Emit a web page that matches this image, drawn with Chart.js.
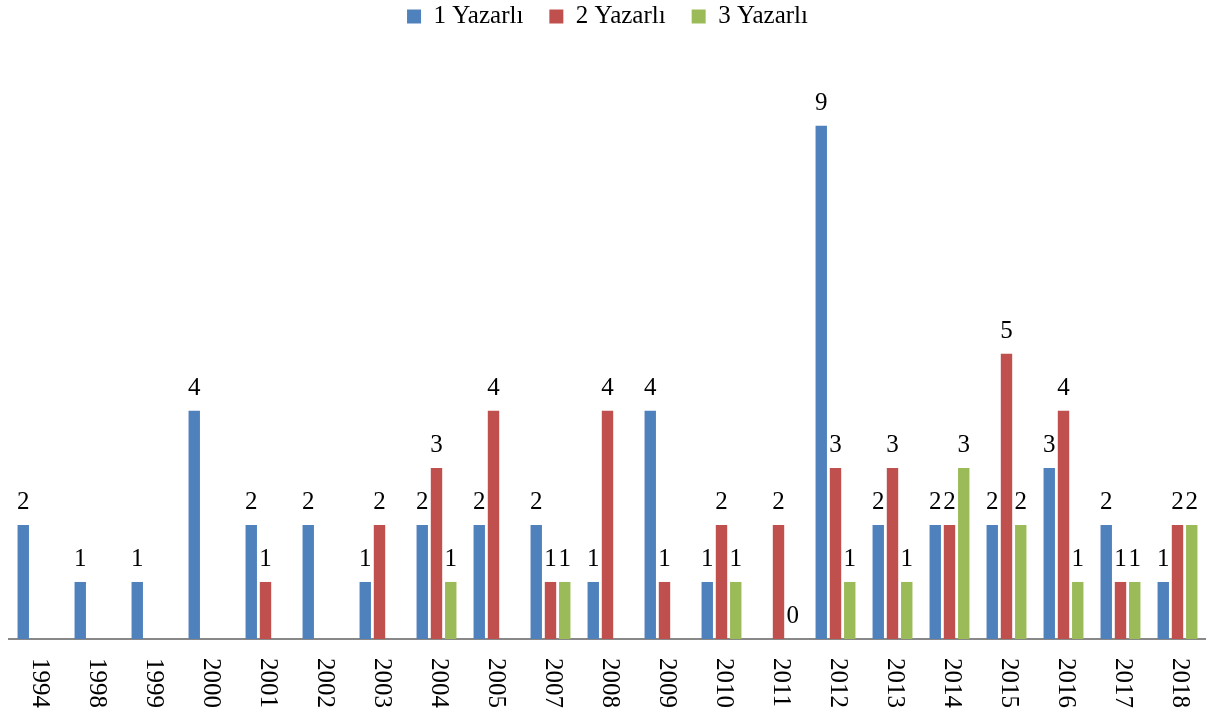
<!DOCTYPE html>
<html>
<head>
<meta charset="utf-8">
<script src="https://cdn.jsdelivr.net/npm/chart.js@4/dist/chart.umd.min.js"></script>
<style>
html,body{margin:0;padding:0;background:#fff;}
#wrap{width:1206px;height:715px;position:relative;}
</style>
</head>
<body>
<div id="wrap"><canvas id="c"></canvas></div>
<script>
const categories = ['1994','1998','1999','2000','2001','2002','2003','2004','2005','2007','2008','2009','2010','2011','2012','2013','2014','2015','2016','2017','2018'];
const yazarli1 = [2,1,1,4,2,2,1,2,2,2,1,4,1,null,9,2,2,2,3,2,1];
const yazarli2 = [null,null,null,null,1,null,2,3,4,1,4,1,2,2,3,3,2,5,4,1,2];
const yazarli3 = [null,null,null,null,null,null,null,1,null,1,null,null,1,0,1,1,3,2,1,1,2];
const seriesNames = ['1 Yazarlı','2 Yazarlı','3 Yazarlı'];
const seriesColors = ['#4F81BD','#C0504D','#9BBB59'];

const FONT = "'Liberation Serif', 'Times New Roman', serif";

const valueLabels = {
  id: 'valueLabels',
  afterDatasetsDraw(chart) {
    const ctx = chart.ctx;
    ctx.save();
    ctx.font = '25px ' + FONT;
    ctx.fillStyle = '#000';
    ctx.textAlign = 'center';
    ctx.textBaseline = 'alphabetic';
    chart.data.datasets.forEach((ds, i) => {
      const meta = chart.getDatasetMeta(i);
      meta.data.forEach((el, j) => {
        const v = ds.data[j];
        if (v === null || v === undefined) return;
        ctx.fillText(String(v), el.x, el.y - 16);
      });
    });
    ctx.restore();
  }
};

// x tick labels rotated clockwise (reading top to bottom)
const rotatedTicks = {
  id: 'rotatedTicks',
  afterDraw(chart) {
    const xs = chart.scales.x;
    const ctx = chart.ctx;
    ctx.save();
    ctx.font = '25px ' + FONT;
    ctx.fillStyle = '#000';
    ctx.textAlign = 'left';
    ctx.textBaseline = 'middle';
    chart.data.labels.forEach((lab, i) => {
      const x = xs.getPixelForTick(i);
      ctx.save();
      ctx.translate(x + 2, chart.chartArea.bottom + 19);
      ctx.rotate(Math.PI / 2);
      ctx.fillText(lab, 0, 0);
      ctx.restore();
    });
    ctx.restore();
  }
};

const datasets = [yazarli1, yazarli2, yazarli3].map((d, i) => ({
  label: seriesNames[i],
  data: d,
  backgroundColor: seriesColors[i],
  borderWidth: 0,
  barPercentage: 0.8,
  categoryPercentage: 0.75
}));

new Chart(document.getElementById('c'), {
  type: 'bar',
  data: { labels: categories, datasets },
  plugins: [valueLabels, rotatedTicks],
  options: {
    responsive: true,
    maintainAspectRatio: false,
    animation: false,
    layout: { padding: { top: -22, left: 9, right: 0, bottom: 76 } },
    plugins: {
      legend: {
        position: 'top',
        labels: {
          boxWidth: 14,
          boxHeight: 14,
          padding: 26,
          color: '#000',
          font: { family: FONT, size: 25 }
        }
      },
      tooltip: { enabled: false }
    },
    scales: {
      x: {
        grid: { display: false, drawTicks: false },
        border: { display: true, color: '#888', width: 2 },
        ticks: { display: false }
      },
      y: {
        display: false,
        min: 0,
        max: 10.52
      }
    }
  }
});
</script>
</body>
</html>
